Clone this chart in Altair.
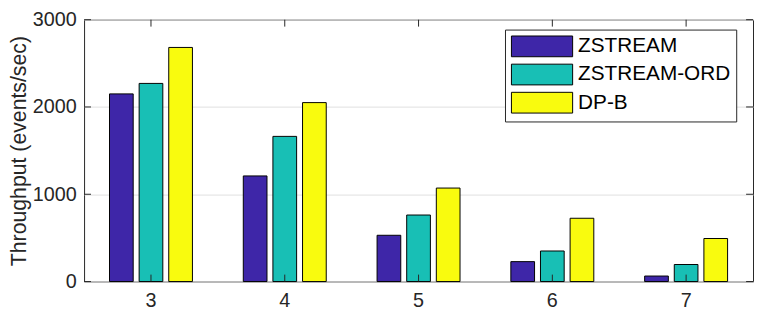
import altair as alt
import pandas as pd

categories = ["3", "4", "5", "6", "7"]
series_names = ["ZSTREAM", "ZSTREAM-ORD", "DP-B"]
zstream = [2150, 1210, 530, 228, 63]
zstream_ord = [2270, 1663, 762, 350, 195]
dp_b = [2682, 2050, 1071, 725, 493]
colors = ["#3e26a8", "#18bfb5", "#f9fb0e"]
y_ticks = [0, 1000, 2000, 3000]

rows = []
for name, vals in zip(series_names, [zstream, zstream_ord, dp_b]):
    for c, v in zip(categories, vals):
        rows.append({"cat": c, "series": name, "value": v})
df = pd.DataFrame(rows)
ytick_df = pd.DataFrame({"value": y_ticks})
xtick_df = pd.DataFrame({"cat": categories})

FONT = "Liberation Sans"
AX = "#262626"
W, H = 677, 265
TL = 7

x_scale = alt.Scale(paddingInner=0.38, paddingOuter=0.19)
y_scale = alt.Scale(domain=[0, 3000], nice=False, zero=True)

x_axis = alt.Axis(orient="bottom", title=None, labelAngle=0, tickSize=0,
                  domain=False, labelPadding=9, labelFontSize=20,
                  labelFont=FONT, labelColor=AX, grid=False)
y_axis = alt.Axis(orient="left", values=y_ticks, format="d", title="Throughput (events/sec)",
                  tickSize=0, domain=False, labelPadding=8, labelFontSize=20,
                  labelFont=FONT, labelColor=AX, titleFont=FONT, titleFontSize=21.5,
                  titleFontWeight="normal", titleColor=AX, titlePadding=2,
                  grid=True, gridColor="#dfdfdf", gridWidth=1)

def X(**kw):
    return alt.X("cat:N", sort=categories, scale=x_scale, axis=x_axis, **kw)

def Y():
    return alt.Y("value:Q", scale=y_scale, axis=y_axis)

bars = alt.Chart(df).mark_bar(stroke="black", strokeWidth=1).encode(
    x=X(),
    xOffset=alt.XOffset("series:N", sort=series_names,
                        scale=alt.Scale(paddingInner=0.2, paddingOuter=0)),
    y=Y(),
    color=alt.Color("series:N", sort=series_names,
                    scale=alt.Scale(domain=series_names, range=colors),
                    legend=alt.Legend(orient="none", legendX=426, legendY=10, title=None,
                                      symbolType="M-1,-1H4.9V1H-1Z", symbolSize=441,
                                      symbolStrokeColor="black", symbolStrokeWidth=1,
                                      symbolOpacity=1,
                                      labelFontSize=21, labelFont=FONT, labelColor="black",
                                      labelOffset=46, rowPadding=2.5,
                                      padding=6, strokeColor=AX, fillColor="white")),
)

# inward tick marks (MATLAB box style) on all four sides
yt_left = alt.Chart(ytick_df).mark_rule(color=AX, strokeWidth=1).encode(
    y=Y(), x=alt.value(0), x2=alt.value(TL))
yt_right = alt.Chart(ytick_df).mark_rule(color=AX, strokeWidth=1).encode(
    y=Y(), x=alt.value(W - TL), x2=alt.value(W))
xt_bottom = alt.Chart(xtick_df).mark_rule(color=AX, strokeWidth=1).encode(
    x=X(bandPosition=0.5), y=alt.value(H - TL), y2=alt.value(H))
xt_top = alt.Chart(xtick_df).mark_rule(color=AX, strokeWidth=1).encode(
    x=X(bandPosition=0.5), y=alt.value(0), y2=alt.value(TL))

chart = alt.layer(bars, yt_left, yt_right, xt_bottom, xt_top).properties(
    width=W, height=H, padding=0
).configure_view(stroke=AX, strokeWidth=1)

chart.save("out.html", embed_options={"renderer": "svg", "actions": False})
